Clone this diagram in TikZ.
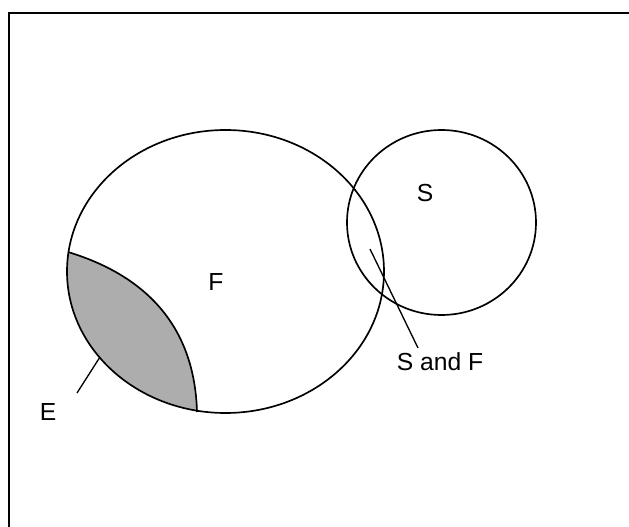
\documentclass[tikz,border=0pt]{standalone}
\usepackage{fontspec}
\setmainfont{Liberation Sans}

\begin{document}
\begin{tikzpicture}[
    x=0.75pt, y=-0.75pt,
    set/.style={draw, line width=1.25pt},
    tag/.style={font=\fontsize{18.5}{21}\selectfont, inner sep=0pt},
    leader/.style={line width=1pt},
    frame/.style={line width=1.6pt},
    shaded/.style={fill=black!32}
]
\useasboundingbox (0,0) rectangle (629,527);

% Frame (top and left edges only)
\draw[frame] (629,13) -- (9,13) -- (9,527);

% Shaded part E inside F
\begin{scope}
  \clip (225.5,271.5) ellipse[x radius=158.5, y radius=141.5];
  \fill[shaded] (68,252) .. controls (160,280) and (195,340) .. (197,412)
                -- (197,527) -- (0,527) -- (0,252) -- cycle;
\end{scope}
\draw[set] (68,252) .. controls (160,280) and (195,340) .. (197,412);

% The two sets
\draw[set] (225.5,271.5) ellipse[x radius=158.5, y radius=141.5];
\draw[set] (441.5,222.5) ellipse[x radius=94.5, y radius=92.5];

% Labels
\node[tag] (F)  at (216,282) {F};
\node[tag] (S)  at (425,193) {S};
\node[tag] (SF) at (440,362) {S and F};
\node[tag] (E)  at (48,412)  {E};

% Leaders
\coordinate (sfin)  at (370,249);
\coordinate (sfend) at (418,348);
\coordinate (ein)   at (100,357);
\coordinate (eend)  at (77,393);
\draw[leader] (sfin) -- (sfend);
\draw[leader] (ein) -- (eend);

\end{tikzpicture}
\end{document}
